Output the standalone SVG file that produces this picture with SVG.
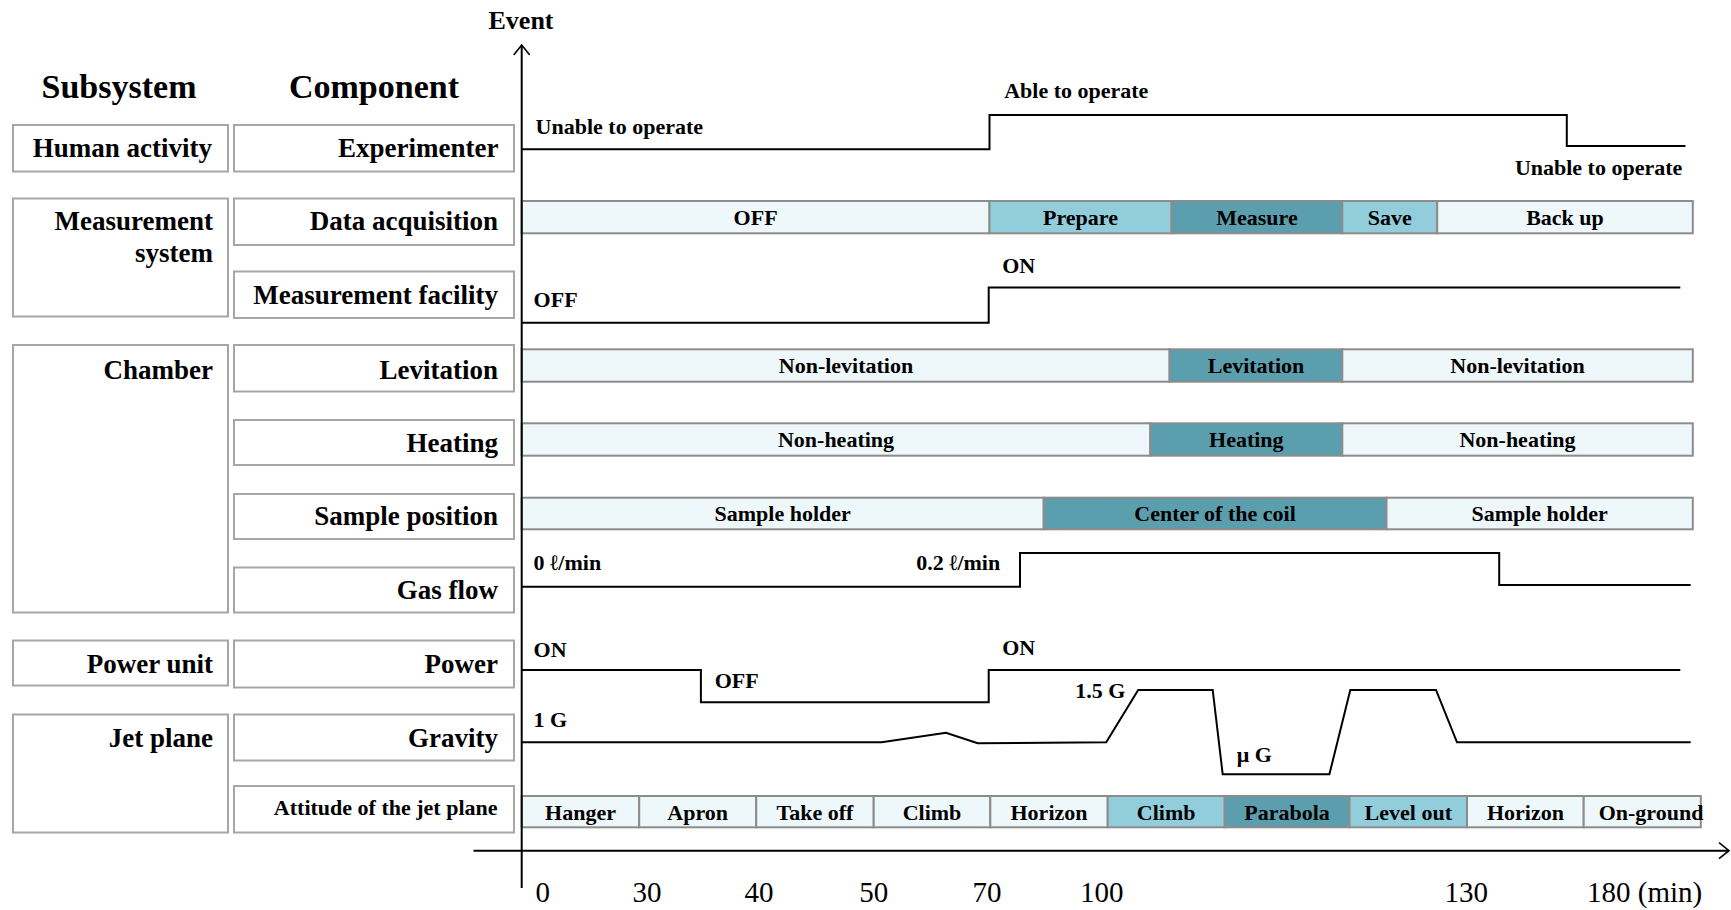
<svg xmlns="http://www.w3.org/2000/svg" width="1731" height="910" viewBox="0 0 1731 910">
<defs>
<marker id="arr" viewBox="0 0 12 18" refX="11" refY="9" markerWidth="12" markerHeight="18" markerUnits="userSpaceOnUse" orient="auto">
<path d="M1,1 L11,9 L1,17" fill="none" stroke="#000" stroke-width="1.6"/>
</marker>
<style>
.box{fill:#fff;stroke:#A6A6A6;stroke-width:2}
.lbl{font-family:"Liberation Serif","Times New Roman",serif;font-weight:bold;font-size:27px;text-anchor:end;fill:#000}
.hdr{font-family:"Liberation Serif","Times New Roman",serif;font-weight:bold;font-size:34px;text-anchor:middle;fill:#000}
.seg{stroke:#8C8C8C;stroke-width:2}
.c0{fill:#EEF7F9}
.c1{fill:#92CDDC}
.c2{fill:#5B9EAE}
.t{font-family:"Liberation Serif","Times New Roman",serif;font-weight:bold;font-size:22px;fill:#000}
.m{text-anchor:middle}
.e{text-anchor:end}
.sig{fill:none;stroke:#000;stroke-width:2}
.ax{fill:none;stroke:#000;stroke-width:2}
.tick{font-family:"Liberation Serif","Times New Roman",serif;font-size:29px;text-anchor:middle;fill:#000}
</style>
</defs>
<rect width="1731" height="910" fill="#fff"/>

<text class="hdr" x="119" y="98">Subsystem</text>
<text class="hdr" x="374" y="98">Component</text>
<text class="t m" x="521" y="29" style="font-size:26px">Event</text>

<g id="sub-human">
<rect class="box" x="13" y="125" width="215" height="46.5"/>
<text class="lbl" x="212" y="157">Human activity</text>
</g>
<g id="sub-measurement">
<rect class="box" x="13" y="198.5" width="215" height="118"/>
<text class="lbl" x="213" y="230">Measurement</text>
<text class="lbl" x="213" y="261.5">system</text>
</g>
<g id="sub-chamber">
<rect class="box" x="13" y="345" width="215" height="267.5"/>
<text class="lbl" x="213" y="378.5">Chamber</text>
</g>
<g id="sub-power">
<rect class="box" x="13" y="640.5" width="215" height="45"/>
<text class="lbl" x="213" y="673">Power unit</text>
</g>
<g id="sub-jet">
<rect class="box" x="13" y="714.5" width="215" height="118"/>
<text class="lbl" x="213" y="747">Jet plane</text>
</g>

<g id="comp-experimenter">
<rect class="box" x="234" y="125" width="280" height="46.5"/>
<text class="lbl" x="498.5" y="157">Experimenter</text>
</g>
<g id="comp-data">
<rect class="box" x="234" y="198.5" width="280" height="46.5"/>
<text class="lbl" x="498" y="230">Data acquisition</text>
</g>
<g id="comp-facility">
<rect class="box" x="234" y="271.5" width="280" height="46.5"/>
<text class="lbl" x="498" y="303.5">Measurement facility</text>
</g>
<g id="comp-levitation">
<rect class="box" x="234" y="345" width="280" height="46.5"/>
<text class="lbl" x="498" y="378.5">Levitation</text>
</g>
<g id="comp-heating">
<rect class="box" x="234" y="420" width="280" height="45"/>
<text class="lbl" x="498" y="451.5">Heating</text>
</g>
<g id="comp-sample">
<rect class="box" x="234" y="494" width="280" height="45"/>
<text class="lbl" x="498" y="524.5">Sample position</text>
</g>
<g id="comp-gas">
<rect class="box" x="234" y="567.5" width="280" height="45"/>
<text class="lbl" x="498" y="598.5">Gas flow</text>
</g>
<g id="comp-power">
<rect class="box" x="234" y="640.5" width="280" height="47"/>
<text class="lbl" x="498" y="673">Power</text>
</g>
<g id="comp-gravity">
<rect class="box" x="234" y="714.5" width="280" height="46"/>
<text class="lbl" x="498" y="747">Gravity</text>
</g>
<g id="comp-attitude">
<rect class="box" x="234" y="786" width="280" height="46.5"/>
<text class="lbl" x="497.5" y="814.5" style="font-size:22px">Attitude of the jet plane</text>
</g>

<g id="track-data">
<rect class="seg c0" x="521.7" y="201" width="467.8" height="32.3"/>
<rect class="seg c1" x="989.5" y="201" width="182.1" height="32.3"/>
<rect class="seg c2" x="1171.6" y="201" width="170.7" height="32.3"/>
<rect class="seg c1" x="1342.3" y="201" width="94.9" height="32.3"/>
<rect class="seg c0" x="1437.2" y="201" width="255.6" height="32.3"/>
<text class="t m" x="755.6" y="224.5">OFF</text>
<text class="t m" x="1080.5" y="224.5">Prepare</text>
<text class="t m" x="1257" y="224.5">Measure</text>
<text class="t m" x="1389.7" y="224.5">Save</text>
<text class="t m" x="1565" y="224.5">Back up</text>
</g>
<g id="track-levitation">
<rect class="seg c0" x="521.7" y="349.3" width="647.9" height="32.4"/>
<rect class="seg c2" x="1169.6" y="349.3" width="172.7" height="32.4"/>
<rect class="seg c0" x="1342.3" y="349.3" width="350.5" height="32.4"/>
<text class="t m" x="846" y="373">Non-levitation</text>
<text class="t m" x="1256" y="373">Levitation</text>
<text class="t m" x="1517.5" y="373">Non-levitation</text>
</g>
<g id="track-heating">
<rect class="seg c0" x="521.7" y="423.3" width="628.6" height="32.4"/>
<rect class="seg c2" x="1150.3" y="423.3" width="192" height="32.4"/>
<rect class="seg c0" x="1342.3" y="423.3" width="350.5" height="32.4"/>
<text class="t m" x="836" y="447">Non-heating</text>
<text class="t m" x="1246.3" y="447">Heating</text>
<text class="t m" x="1517.5" y="447">Non-heating</text>
</g>
<g id="track-sample">
<rect class="seg c0" x="521.7" y="497.7" width="522" height="31.6"/>
<rect class="seg c2" x="1043.7" y="497.7" width="342.8" height="31.6"/>
<rect class="seg c0" x="1386.5" y="497.7" width="306.3" height="31.6"/>
<text class="t m" x="782.7" y="521">Sample holder</text>
<text class="t m" x="1215" y="521">Center of the coil</text>
<text class="t m" x="1539.6" y="521">Sample holder</text>
</g>
<g id="track-attitude">
<rect class="seg c0" x="521.7" y="796" width="117.5" height="31.3"/>
<rect class="seg c0" x="639.2" y="796" width="117" height="31.3"/>
<rect class="seg c0" x="756.2" y="796" width="117.5" height="31.3"/>
<rect class="seg c0" x="873.7" y="796" width="116.6" height="31.3"/>
<rect class="seg c0" x="990.3" y="796" width="117.4" height="31.3"/>
<rect class="seg c1" x="1107.7" y="796" width="117" height="31.3"/>
<rect class="seg c2" x="1224.7" y="796" width="124.8" height="31.3"/>
<rect class="seg c1" x="1349.5" y="796" width="117.5" height="31.3"/>
<rect class="seg c0" x="1467" y="796" width="116.7" height="31.3"/>
<rect class="seg c0" x="1583.7" y="796" width="117.1" height="31.3"/>
<text class="t m" x="580.5" y="820">Hanger</text>
<text class="t m" x="697.7" y="820">Apron</text>
<text class="t m" x="815" y="820">Take off</text>
<text class="t m" x="932" y="820">Climb</text>
<text class="t m" x="1049" y="820">Horizon</text>
<text class="t m" x="1166.2" y="820">Climb</text>
<text class="t m" x="1287.1" y="820">Parabola</text>
<text class="t m" x="1408.3" y="820">Level out</text>
<text class="t m" x="1525.4" y="820">Horizon</text>
<text class="t m" x="1651" y="820">On-ground</text>
</g>

<g id="connectors">
<path class="ax" d="M521.7,888 V45" marker-end="url(#arr)"/>
<path class="ax" d="M473.5,850.7 H1729" marker-end="url(#arr)"/>
<path id="sig-experimenter" class="sig" d="M521.7,149.3 H989.5 V115 H1566.8 V146 H1685.5"/>
<path id="sig-facility" class="sig" d="M521.7,322.7 H988.7 V287.5 H1680.3"/>
<path id="sig-gas" class="sig" d="M521.7,586.7 H1020 V553 H1499.2 V585 H1690.7"/>
<path id="sig-power" class="sig" d="M521.7,670 H700.9 V702.3 H988.7 V670 H1680.3"/>
<path id="sig-gravity" class="sig" d="M521.7,742.3 H881.6 L946,732.7 L977.7,743.3 L1106.2,742.3 L1138.2,690 H1212.7 L1222.7,774.3 H1329.4 L1350.3,690 H1436 L1457,742.3 H1690.7"/>
</g>

<g id="signal-labels">
<text class="t" x="535.6" y="134">Unable to operate</text>
<text class="t" x="1004.2" y="98.3">Able to operate</text>
<text class="t e" x="1682.3" y="175">Unable to operate</text>
<text class="t" x="533.6" y="307.3">OFF</text>
<text class="t" x="1002.2" y="272.7">ON</text>
<text class="t" x="533.6" y="570">0 ℓ/min</text>
<text class="t e" x="1000.2" y="570">0.2 ℓ/min</text>
<text class="t" x="533.6" y="657.3">ON</text>
<text class="t" x="714.7" y="688.3">OFF</text>
<text class="t" x="1002.2" y="655">ON</text>
<text class="t" x="533.6" y="727.3">1 G</text>
<text class="t" x="1075.3" y="698.3">1.5 G</text>
<text class="t" x="1236.8" y="761.7">μ G</text>
</g>

<g id="ticks">
<text class="tick" x="542.7" y="902">0</text>
<text class="tick" x="647" y="902">30</text>
<text class="tick" x="759" y="902">40</text>
<text class="tick" x="873.7" y="902">50</text>
<text class="tick" x="987" y="902">70</text>
<text class="tick" x="1101.7" y="902">100</text>
<text class="tick" x="1466.2" y="902">130</text>
<text class="tick" x="1587" y="902" style="text-anchor:start">180 (min)</text>
</g>
</svg>
